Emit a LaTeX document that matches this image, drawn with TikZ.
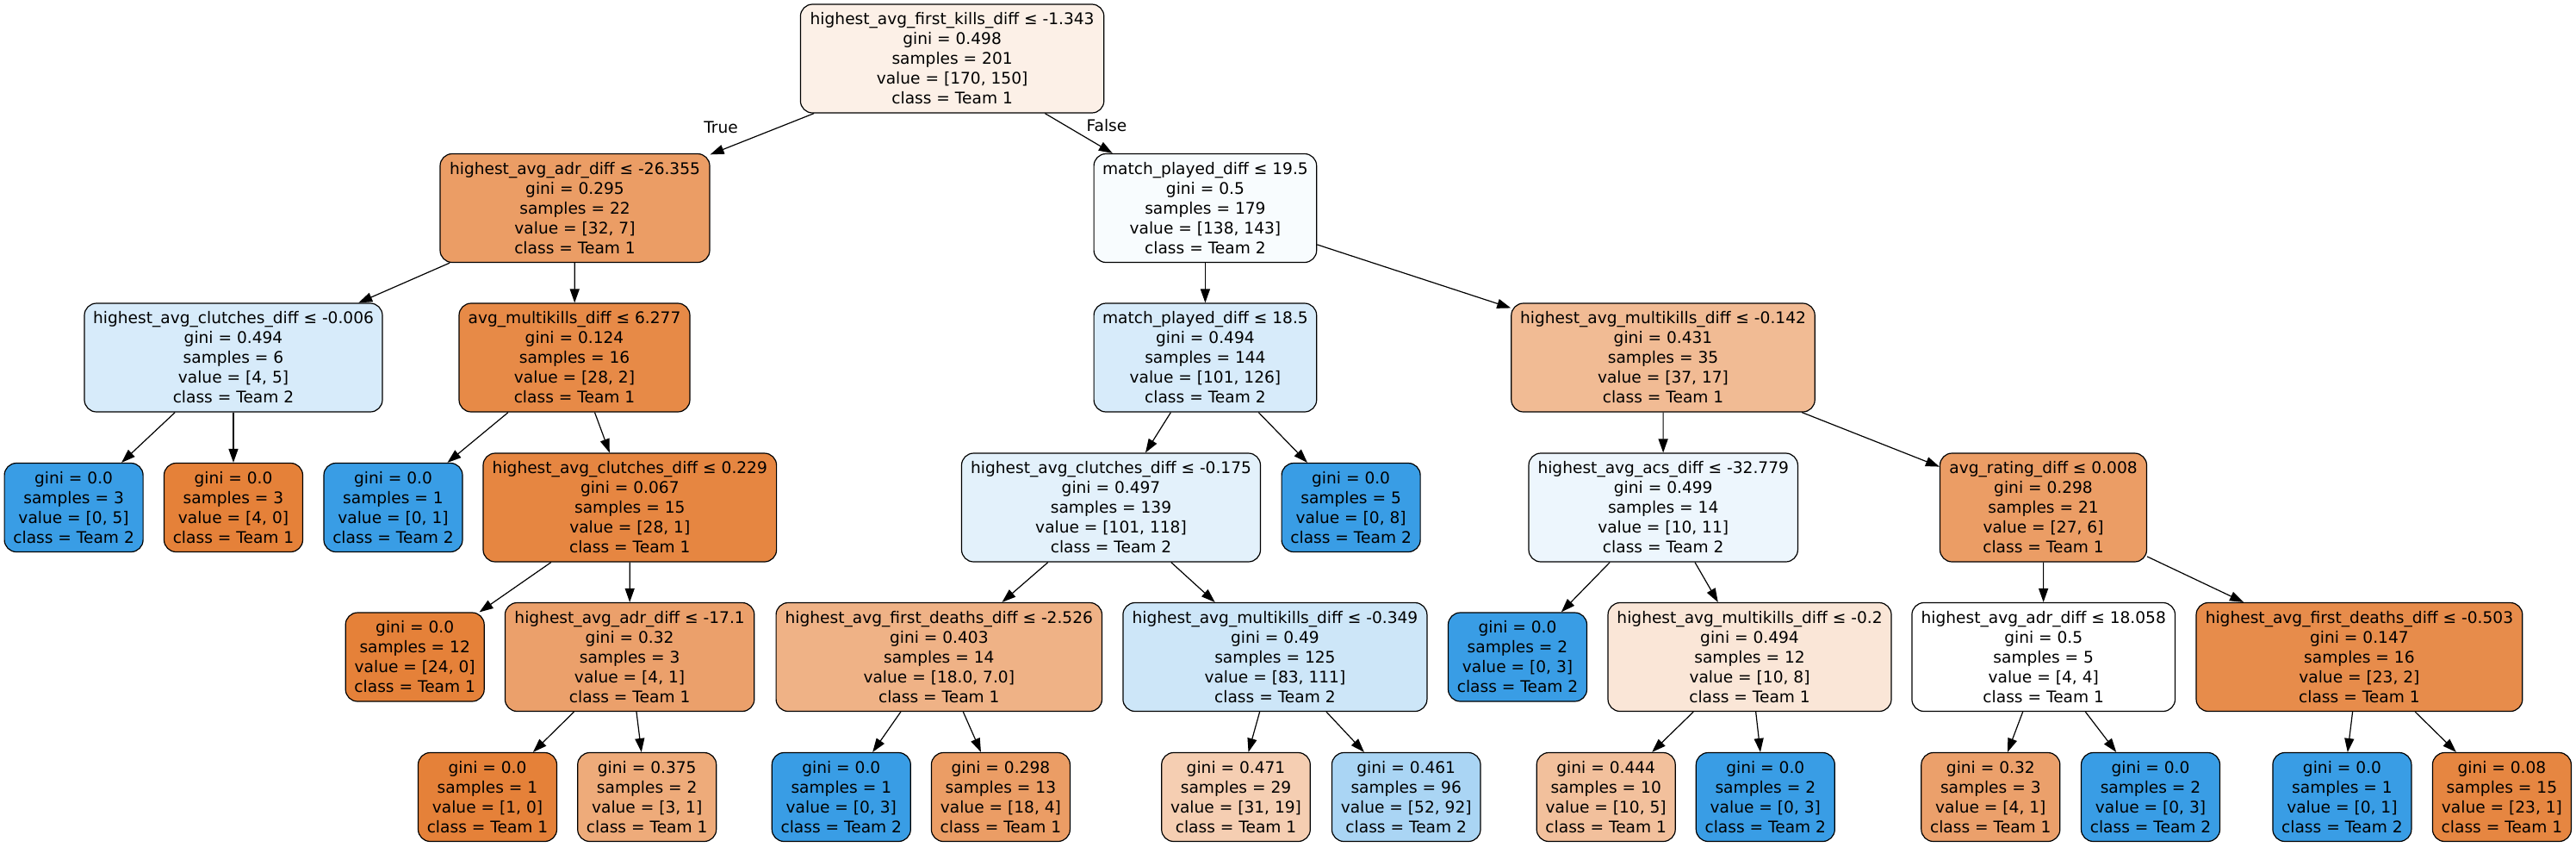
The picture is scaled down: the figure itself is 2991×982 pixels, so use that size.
\documentclass[tikz,border=0pt]{standalone}
\usepackage{fontspec}
\setmainfont{DejaVu Sans}
\usetikzlibrary{arrows.meta}
\definecolor{TA}{HTML}{E58139}
\definecolor{TB}{HTML}{399DE5}
\begin{document}
\begin{tikzpicture}[x=0.5pt,y=-0.5pt,
  box/.style={draw=black, line width=0.6pt, rounded corners=7pt, align=center,
    font=\fontsize{9.3}{11.5}\selectfont, inner sep=0pt, minimum height=63pt},
  leaf/.style={box, minimum height=51.5pt, minimum width=80.5pt},
  lbl/.style={font=\fontsize{9.3}{11.5}\selectfont, inner sep=0pt},
  edge/.style={line width=0.6pt, -{Triangle[length=8pt,width=5.5pt]}}]
\useasboundingbox (0,0) rectangle (2991,982);
% rank 0
\node[box, minimum width=176.2pt, fill=TA!12!white] (n0) at (1105.6,68) {highest\_avg\_first\_kills\_diff ≤ -1.343\\gini = 0.498\\samples = 201\\value = [170, 150]\\class = Team 1};
% rank 1
\node[box, minimum width=156.5pt, fill=TA!78!white] (n1) at (667.5,241.5) {highest\_avg\_adr\_diff ≤ -26.355\\gini = 0.295\\samples = 22\\value = [32, 7]\\class = Team 1};
\node[box, minimum width=129.3pt, fill=TB!3.5!white] (n2) at (1399.4,241.5) {match\_played\_diff ≤ 19.5\\gini = 0.5\\samples = 179\\value = [138, 143]\\class = Team 2};
% rank 2
\node[box, minimum width=173pt, fill=TB!20!white] (n3) at (271,415) {highest\_avg\_clutches\_diff ≤ -0.006\\gini = 0.494\\samples = 6\\value = [4, 5]\\class = Team 2};
\node[box, minimum width=134pt, fill=TA!93!white] (n4) at (667,415) {avg\_multikills\_diff ≤ 6.277\\gini = 0.124\\samples = 16\\value = [28, 2]\\class = Team 1};
\node[box, minimum width=129.3pt, fill=TB!20!white] (n5) at (1399.4,415) {match\_played\_diff ≤ 18.5\\gini = 0.494\\samples = 144\\value = [101, 126]\\class = Team 2};
\node[box, minimum width=176.2pt, fill=TA!54!white] (n6) at (1931,415) {highest\_avg\_multikills\_diff ≤ -0.142\\gini = 0.431\\samples = 35\\value = [37, 17]\\class = Team 1};
% rank 3
\node[leaf, fill=TB] (n7) at (85.6,589) {gini = 0.0\\samples = 3\\value = [0, 5]\\class = Team 2};
\node[leaf, fill=TA] (n8) at (271,589) {gini = 0.0\\samples = 3\\value = [4, 0]\\class = Team 1};
\node[leaf, fill=TB] (n9) at (456.5,589) {gini = 0.0\\samples = 1\\value = [0, 1]\\class = Team 2};
\node[box, minimum width=170.3pt, fill=TA!96!white] (n10) at (731.3,589) {highest\_avg\_clutches\_diff ≤ 0.229\\gini = 0.067\\samples = 15\\value = [28, 1]\\class = Team 1};
\node[box, minimum width=173.5pt, fill=TB!14!white] (n11) at (1290,589) {highest\_avg\_clutches\_diff ≤ -0.175\\gini = 0.497\\samples = 139\\value = [101, 118]\\class = Team 2};
\node[leaf, fill=TB] (n12) at (1568.6,589) {gini = 0.0\\samples = 5\\value = [0, 8]\\class = Team 2};
\node[box, minimum width=156.2pt, fill=TB!9!white] (n13) at (1931.2,589) {highest\_avg\_acs\_diff ≤ -32.779\\gini = 0.499\\samples = 14\\value = [10, 11]\\class = Team 2};
\node[box, minimum width=120pt, fill=TA!78!white] (n14) at (2372.5,589) {avg\_rating\_diff ≤ 0.008\\gini = 0.298\\samples = 21\\value = [27, 6]\\class = Team 1};
% rank 4
\node[leaf, fill=TA] (n15) at (481.7,762.5) {gini = 0.0\\samples = 12\\value = [24, 0]\\class = Team 1};
\node[box, minimum width=144.7pt, fill=TA!75!white] (n16) at (731.1,762.5) {highest\_avg\_adr\_diff ≤ -17.1\\gini = 0.32\\samples = 3\\value = [4, 1]\\class = Team 1};
\node[box, minimum width=189.2pt, fill=TA!61!white] (n17) at (1090.3,762.5) {highest\_avg\_first\_deaths\_diff ≤ -2.526\\gini = 0.403\\samples = 14\\value = [18.0, 7.0]\\class = Team 1};
\node[box, minimum width=176.5pt, fill=TB!25!white] (n18) at (1480.4,762.5) {highest\_avg\_multikills\_diff ≤ -0.349\\gini = 0.49\\samples = 125\\value = [83, 111]\\class = Team 2};
\node[leaf, fill=TB] (n19) at (1762,762.5) {gini = 0.0\\samples = 2\\value = [0, 3]\\class = Team 2};
\node[box, minimum width=164.5pt, fill=TA!20!white] (n20) at (2031.5,762.5) {highest\_avg\_multikills\_diff ≤ -0.2\\gini = 0.494\\samples = 12\\value = [10, 8]\\class = Team 1};
\node[box, minimum width=152.8pt, fill=white] (n21) at (2372.7,762.5) {highest\_avg\_adr\_diff ≤ 18.058\\gini = 0.5\\samples = 5\\value = [4, 4]\\class = Team 1};
\node[box, minimum width=189.4pt, fill=TA!91!white] (n22) at (2739.4,762.5) {highest\_avg\_first\_deaths\_diff ≤ -0.503\\gini = 0.147\\samples = 16\\value = [23, 2]\\class = Team 1};
% rank 5
\node[leaf, fill=TA] (n23) at (566,925) {gini = 0.0\\samples = 1\\value = [1, 0]\\class = Team 1};
\node[leaf, fill=TA!67!white] (n24) at (751.2,925) {gini = 0.375\\samples = 2\\value = [3, 1]\\class = Team 1};
\node[leaf, fill=TB] (n25) at (976.8,925) {gini = 0.0\\samples = 1\\value = [0, 3]\\class = Team 2};
\node[leaf, fill=TA!78!white] (n26) at (1161.9,925) {gini = 0.298\\samples = 13\\value = [18, 4]\\class = Team 1};
\node[leaf, minimum width=86.3pt, fill=TA!39!white] (n27) at (1435,925) {gini = 0.471\\samples = 29\\value = [31, 19]\\class = Team 1};
\node[leaf, minimum width=86.3pt, fill=TB!43!white] (n28) at (1632.7,925) {gini = 0.461\\samples = 96\\value = [52, 92]\\class = Team 2};
\node[leaf, fill=TA!50!white] (n29) at (1864.7,925) {gini = 0.444\\samples = 10\\value = [10, 5]\\class = Team 1};
\node[leaf, fill=TB] (n30) at (2049.8,925) {gini = 0.0\\samples = 2\\value = [0, 3]\\class = Team 2};
\node[leaf, fill=TA!75!white] (n31) at (2311.3,925) {gini = 0.32\\samples = 3\\value = [4, 1]\\class = Team 1};
\node[leaf, fill=TB] (n32) at (2497,925) {gini = 0.0\\samples = 2\\value = [0, 3]\\class = Team 2};
\node[leaf, fill=TB] (n33) at (2719.4,925) {gini = 0.0\\samples = 1\\value = [0, 1]\\class = Team 2};
\node[leaf, fill=TA!96!white] (n34) at (2904.9,925) {gini = 0.08\\samples = 15\\value = [23, 1]\\class = Team 1};
% labels
\node[lbl] (tl) at (837,148) {True};
\node[lbl] (fl) at (1285,146) {False};
% edges
\foreach \a/\b in {n0/n1,n0/n2,n1/n3,n1/n4,n2/n5,n2/n6,n3/n7,n3/n8,n4/n9,n4/n10,
  n5/n11,n5/n12,n6/n13,n6/n14,n10/n15,n10/n16,n11/n17,n11/n18,n13/n19,n13/n20,
  n14/n21,n14/n22,n16/n23,n16/n24,n17/n25,n17/n26,n18/n27,n18/n28,n20/n29,n20/n30,
  n21/n31,n21/n32,n22/n33,n22/n34}
  \draw[edge] (\a) -- (\b);
\end{tikzpicture}
\end{document}
